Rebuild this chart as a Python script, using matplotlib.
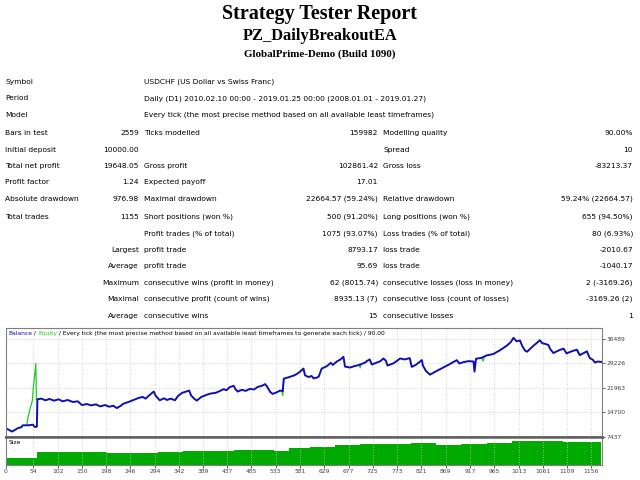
import numpy as np
import matplotlib.pyplot as plt

W, H = 640, 480

# balance curve (x = deal number, y = balance)
bal_x = [0, 5, 12, 16, 24, 30, 33, 45, 53, 57, 61, 62, 70, 78, 86, 95, 104, 112,
         122, 132, 142, 150, 160, 168, 178, 186, 196, 204, 212, 219, 226, 232,
         242, 252, 262, 270, 276, 284, 292, 296, 304, 312, 318, 326, 334, 340,
         348, 356, 362, 366, 372, 377, 386, 396, 404, 414, 422, 430, 436, 442,
         450, 454, 458, 466, 474, 482, 490, 498, 506, 512, 516, 522, 527, 534,
         542, 547, 549, 560, 570, 578, 588, 591, 598, 604, 608, 614, 618, 624,
         634, 642, 646, 654, 662, 667, 670, 680, 688, 696, 702, 710, 714, 719,
         723, 733, 740, 746, 751, 754, 765, 772, 779, 788, 798, 802, 810, 815,
         822, 824, 830, 838, 850, 864, 878, 891, 896, 904, 914, 924, 926, 929,
         940, 950, 963, 976, 990, 998, 1003, 1009, 1016, 1020, 1026, 1030, 1042,
         1050, 1055, 1060, 1066, 1072, 1076, 1082, 1090, 1096, 1102, 1108, 1116,
         1122, 1128, 1134, 1142, 1148, 1154, 1160, 1164, 1170, 1177]
bal_y = [10000, 9600, 9050, 9400, 10100, 10300, 10900, 10900, 11100, 10400,
         10500, 18600, 18800, 18300, 18700, 18200, 18600, 18000, 18400, 17800,
         18000, 16900, 17200, 16800, 17100, 16500, 16900, 16400, 16700, 16000,
         16600, 17300, 17800, 18400, 19000, 19300, 18800, 19900, 20900, 19600,
         18300, 18900, 18400, 18800, 18300, 19600, 20500, 20900, 21200, 19700,
         18800, 18200, 19300, 19900, 20300, 20500, 21000, 21600, 21300, 22200,
         22600, 21500, 20900, 21400, 21100, 21700, 21500, 22300, 22600, 23100,
         22400, 20800, 20200, 20600, 21200, 21000, 24700, 25200, 25700, 26400,
         27700, 25700, 25200, 25500, 24800, 25000, 25300, 27700, 28400, 29400,
         28800, 29800, 30500, 31200, 28300, 28000, 28400, 28700, 29000, 29500,
         30000, 30400, 28900, 29500, 29900, 30700, 30000, 28600, 29200, 29900,
         30700, 30400, 30800, 28200, 28800, 29400, 30200, 28600, 27000, 25900,
         26900, 28000, 29100, 30200, 29200, 29600, 29900, 29800, 26800, 30600,
         30900, 31600, 32000, 33100, 34500, 35600, 36800, 35800, 36000, 34500,
         33000, 32700, 34400, 35400, 36100, 35200, 35000, 34700, 33400, 32300,
         32900, 33300, 33600, 32200, 32700, 33000, 33300, 31700, 32300, 32800,
         30800, 30300, 29500, 29800, 29650]

# equity where it leaves the balance line (nan splits the pieces)
eq_x = [41, 44, 49, 52, 54, 59, 60, np.nan, 545, 547, 549, np.nan,
        698, 700, 702, np.nan, 940, 943, 946, np.nan, 1130, 1132, 1134]
eq_y = [10900, 13700, 16600, 18100, 22000, 29226, 18600, np.nan, 21100, 19700,
        24700, np.nan, 28800, 27900, 29000, np.nan, 30900, 29900, 31200, np.nan,
        33200, 32300, 31700]

# lot size panel
size_x = [0, 62, 100, 150, 200, 250, 300, 350, 400, 450, 500, 530, 560, 600,
          650, 700, 750, 800, 850, 900, 950, 1000, 1050, 1100, 1150, 1177]
size_y = [0.10, 0.19, 0.185, 0.18, 0.17, 0.175, 0.19, 0.20, 0.195, 0.21, 0.22,
          0.20, 0.24, 0.26, 0.28, 0.30, 0.30, 0.31, 0.29, 0.30, 0.32, 0.35,
          0.34, 0.33, 0.33, 0.31]

y_ticks = [7437, 14700, 21963, 29226, 36489]
x_ticks = [0, 54, 102, 150, 198, 246, 294, 342, 389, 437, 485, 533, 581, 629,
           677, 725, 773, 821, 869, 917, 965, 1013, 1061, 1109, 1156]

info_labels = ['Symbol', 'Period', 'Model']
info_values = ['USDCHF (US Dollar vs Swiss Franc)',
               'Daily (D1) 2010.02.10 00:00 - 2019.01.25 00:00 (2008.01.01 - 2019.01.27)',
               'Every tick (the most precise method based on all available least timeframes)']

stat_rows = [
    ['Bars in test', '2559', 'Ticks modelled', '159982', 'Modelling quality', '90.00%'],
    ['Initial deposit', '10000.00', '', '', 'Spread', '10'],
    ['Total net profit', '19648.05', 'Gross profit', '102861.42', 'Gross loss', '-83213.37'],
    ['Profit factor', '1.24', 'Expected payoff', '17.01', '', ''],
    ['Absolute drawdown', '976.98', 'Maximal drawdown', '22664.57 (59.24%)',
     'Relative drawdown', '59.24% (22664.57)'],
]
trade_rows = [
    ['Total trades', '1155', 'Short positions (won %)', '500 (91.20%)',
     'Long positions (won %)', '655 (94.50%)'],
    ['', '', 'Profit trades (% of total)', '1075 (93.07%)',
     'Loss trades (% of total)', '80 (6.93%)'],
    ['', 'Largest', 'profit trade', '8793.17', 'loss trade', '-2010.67'],
    ['', 'Average', 'profit trade', '95.69', 'loss trade', '-1040.17'],
    ['', 'Maximum', 'consecutive wins (profit in money)', '62 (8015.74)',
     'consecutive losses (loss in money)', '2 (-3169.26)'],
    ['', 'Maximal', 'consecutive profit (count of wins)', '8935.13 (7)',
     'consecutive loss (count of losses)', '-3169.26 (2)'],
    ['', 'Average', 'consecutive wins', '15', 'consecutive losses', '1'],
]


def fx(px):
    return px / W


def fy(py):
    return 1 - py / H


fig = plt.figure(figsize=(6.4, 4.8), dpi=100)
fig.patch.set_facecolor('white')

serif = 'Liberation Serif'
fig.text(fx(320), fy(14), 'Strategy Tester Report', ha='center', va='center',
         fontsize=14.5, fontweight='bold', family=serif)
fig.text(fx(320), fy(36), 'PZ_DailyBreakoutEA', ha='center', va='center',
         fontsize=11.8, fontweight='bold', family=serif)
fig.text(fx(320), fy(54), 'GlobalPrime-Demo (Build 1090)', ha='center',
         va='center', fontsize=7.9, fontweight='bold', family=serif)

fs = 5.4
step = 16.4
row_y = 82
for lab, val in zip(info_labels, info_values):
    fig.text(fx(5), fy(row_y), lab, fontsize=fs, va='center')
    fig.text(fx(144), fy(row_y), val, fontsize=fs, va='center')
    row_y += step

# column anchors: left, right, left, right, left, right
cols = [(5, 'left'), (139, 'right'), (144, 'left'), (378, 'right'),
        (383, 'left'), (633, 'right')]
for block in (stat_rows, trade_rows):
    row_y += 2
    for row in block:
        for txt, (cx, ha) in zip(row, cols):
            if txt:
                fig.text(fx(cx), fy(row_y), txt, fontsize=fs, va='center', ha=ha)
        row_y += step

# ---- chart ----
top, sep, bot = 328, 437, 465
left, right = 6, 602
ax = fig.add_axes([fx(left), fy(sep), (right - left) / W, (sep - top) / H])
sax = fig.add_axes([fx(left), fy(bot), (right - left) / W, (bot - sep) / H],
                   sharex=ax)

blue = '#1010B0'
green = '#22CC22'
ax.plot(eq_x, eq_y, color=green, lw=0.9)
ax.plot(bal_x, bal_y, color=blue, lw=1.4)
ax.set_xlim(0, 1178)
ax.set_ylim(7437, 39717)

cfs = 4.3
ax.yaxis.tick_right()
ax.set_yticks(y_ticks)
ax.set_yticklabels([str(v) for v in y_ticks], fontsize=cfs)
ax.tick_params(axis='y', length=2, width=0.6, pad=1, colors='#404040')
ax.set_xticks(x_ticks)
ax.tick_params(axis='x', length=0, labelbottom=False)
ax.grid(True, color='#C4C4C4', linestyle=(0, (1, 2)), lw=0.6)

t1 = ax.text(0.004, 0.975, 'Balance', transform=ax.transAxes, color=blue,
             fontsize=cfs, va='top', ha='left')
t2 = ax.annotate(' / ', xy=(1, 0), xycoords=t1, va='bottom', ha='left',
                 fontsize=cfs, color='black')
t3 = ax.annotate('Equity', xy=(1, 0), xycoords=t2, va='bottom', ha='left',
                 fontsize=cfs, color=green)
ax.annotate(' / Every tick (the most precise method based on all available '
            'least timeframes to generate each tick) / 90.00',
            xy=(1, 0), xycoords=t3, va='bottom', ha='left', fontsize=cfs,
            color='black')

sax.fill_between(size_x, size_y, step='post', color='#00AA00', lw=0)
sax.set_ylim(0, 0.40)
sax.set_yticks([])
sax.set_xticks(x_ticks)
sax.set_xticklabels([str(v) for v in x_ticks], fontsize=cfs)
sax.tick_params(axis='x', length=2, width=0.6, pad=1, colors='#404040')
sax.grid(True, axis='x', color='#C4C4C4', linestyle=(0, (1, 2)), lw=0.6)
sax.text(0.004, 0.88, 'Size', transform=sax.transAxes, fontsize=cfs,
         va='top', ha='left')

for a in (ax, sax):
    for s in a.spines.values():
        s.set_color('#808080')
        s.set_linewidth(0.8)
ax.spines['bottom'].set_color('#606060')
ax.spines['bottom'].set_linewidth(1.8)
sax.spines['top'].set_color('#606060')
sax.spines['top'].set_linewidth(1.8)

fig.savefig('out.png', dpi=100)
